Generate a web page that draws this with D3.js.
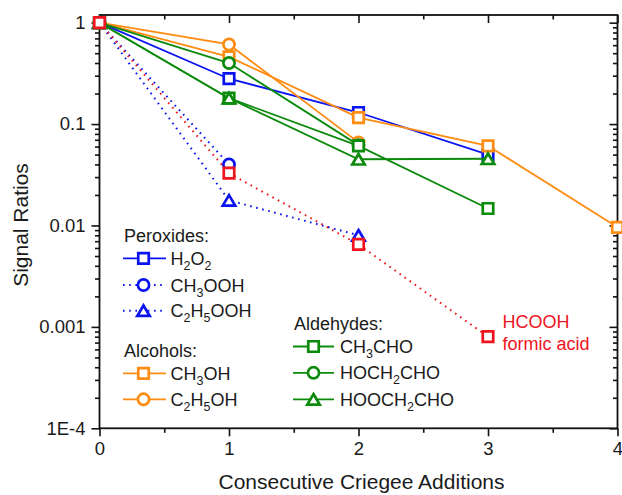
<!DOCTYPE html>
<html>
<head>
<meta charset="utf-8">
<script src="https://cdn.jsdelivr.net/npm/d3@7"></script>
<style>
  html, body { margin: 0; padding: 0; background: #fff; }
  svg text { font-family: "Liberation Sans", Arial, sans-serif; fill: #1a1a1a; }
</style>
</head>
<body>
<svg id="chart" width="622" height="495"></svg>
<script>
// Number of consecutive Criegee additions
const additions = [0, 1, 2, 3, 4];

// Signal ratios per species (index = number of additions)
const h2o2      = [1, 0.28, 0.13, 0.05];
const ch3ooh    = [1, 0.04];
const c2h5ooh   = [1, 0.0177, 0.008];
const ch3oh     = [1, 0.46, 0.116, 0.061, 0.0096];
const c2h5oh    = [1, 0.61, 0.066];
const ch3cho    = [1, 0.18, 0.061, 0.0147];
const hoch2cho  = [1, 0.40, 0.062];
const hooch2cho = [1, 0.18, 0.045, 0.0455];
const hcooh     = [1, 0.0328, 0.0065, 0.0008];

const yTickValues = [1, 0.1, 0.01, 0.001, 0.0001];
const yTickLabels = ["1", "0.1", "0.01", "0.001", "1E-4"];
const xTickValues = [0, 1, 2, 3, 4];

const BLUE = "#0a14f0", ORANGE = "#ff8c12", GREEN = "#0b8a0b", RED = "#f0141e";

const series = [
  { name: "H2O2",      values: h2o2,      color: BLUE,   shape: "square",   dotted: false },
  { name: "CH3OOH",    values: ch3ooh,    color: BLUE,   shape: "circle",   dotted: true },
  { name: "C2H5OOH",   values: c2h5ooh,   color: BLUE,   shape: "triangle", dotted: true },
  { name: "CH3OH",     values: ch3oh,     color: ORANGE, shape: "square",   dotted: false },
  { name: "C2H5OH",    values: c2h5oh,    color: ORANGE, shape: "circle",   dotted: false },
  { name: "CH3CHO",    values: ch3cho,    color: GREEN,  shape: "square",   dotted: false },
  { name: "HOCH2CHO",  values: hoch2cho,  color: GREEN,  shape: "circle",   dotted: false },
  { name: "HOOCH2CHO", values: hooch2cho, color: GREEN,  shape: "triangle", dotted: false },
  { name: "HCOOH",     values: hcooh,     color: RED,    shape: "square",   dotted: true }
];
// stacking order of the plotted series (later ones on top)
const drawOrder = [0, 1, 2, 3, 4, 6, 5, 7, 8];

const svg = d3.select("#chart");

const x = d3.scaleLinear().domain([0, 4]).range([99.5, 617.5]);
const y = d3.scaleLog().domain([1e-4, 1.19]).range([428.3, 15]);

const plotLeft = x.range()[0], plotRight = x.range()[1];
const plotTop = y.range()[1], plotBottom = y.range()[0];

// Marker shapes
function markerPath(shape) {
  if (shape === "square") {
    const s = 10.5;
    return `M${-s/2},${-s/2}H${s/2}V${s/2}H${-s/2}Z`;
  }
  if (shape === "circle") {
    return d3.symbol(d3.symbolCircle, Math.PI * 5.6 * 5.6)();
  }
  const w = 12.5, h = 10.5;
  return `M0,${-h/2}L${w/2},${h/2}L${-w/2},${h/2}Z`;
}

function drawMarker(g, shape, color, cx, cy) {
  g.append("path")
    .attr("d", markerPath(shape))
    .attr("transform", `translate(${cx},${cy})`)
    .attr("fill", "#fff")
    .attr("stroke", color)
    .attr("stroke-width", 2.7)
    .attr("stroke-linejoin", "miter");
}

function styleLine(sel, s) {
  sel.attr("fill", "none")
    .attr("stroke", s.color)
    .attr("stroke-width", s.dotted ? 2 : 1.8);
  if (s.dotted) sel.attr("stroke-dasharray", "1.6,4.6");
}

// Axes: bottom/left ticks outward, top/right mirrored inward
const minorX = d3.range(0.5, 4, 1);
const minorY = [];
[1e-4, 1e-3, 1e-2, 1e-1].forEach(d => { for (let k = 2; k <= 9; k++) minorY.push(d * k); });

const axisColor = "#111";

// bottom axis
svg.append("g").attr("transform", `translate(0,${plotBottom})`)
  .call(d3.axisBottom(x).tickValues(minorX).tickSize(4.5).tickFormat(""))
  .call(g => g.select(".domain").remove());
svg.append("g").attr("class", "xaxis").attr("transform", `translate(0,${plotBottom})`)
  .call(d3.axisBottom(x).tickValues(xTickValues).tickSize(8).tickPadding(6).tickFormat(d3.format("d")))
  .call(g => g.select(".domain").remove());
// top axis (inward)
svg.append("g").attr("transform", `translate(0,${plotTop})`)
  .call(d3.axisBottom(x).tickValues(minorX).tickSize(4.5).tickFormat(""))
  .call(g => g.select(".domain").remove());
svg.append("g").attr("transform", `translate(0,${plotTop})`)
  .call(d3.axisBottom(x).tickValues(xTickValues).tickSize(8).tickFormat(""))
  .call(g => g.select(".domain").remove());
// left axis
svg.append("g").attr("transform", `translate(${plotLeft},0)`)
  .call(d3.axisLeft(y).tickValues(minorY).tickSize(4.5).tickFormat(""))
  .call(g => g.select(".domain").remove());
svg.append("g").attr("class", "yaxis").attr("transform", `translate(${plotLeft},0)`)
  .call(d3.axisLeft(y).tickValues(yTickValues).tickSize(8).tickPadding(6)
    .tickFormat((d, i) => yTickLabels[i]))
  .call(g => g.select(".domain").remove());
// right axis (inward)
svg.append("g").attr("transform", `translate(${plotRight},0)`)
  .call(d3.axisLeft(y).tickValues(minorY).tickSize(4.5).tickFormat(""))
  .call(g => g.select(".domain").remove());
svg.append("g").attr("transform", `translate(${plotRight},0)`)
  .call(d3.axisLeft(y).tickValues(yTickValues).tickSize(8).tickFormat(""))
  .call(g => g.select(".domain").remove());

// unlabeled tick groups carry no text
svg.selectAll(".tick text").filter(function () { return this.textContent === ""; }).remove();
svg.selectAll(".tick line").attr("stroke", axisColor).attr("stroke-width", 1.6);
svg.selectAll(".xaxis text, .yaxis text").attr("font-size", 18.5).attr("fill", "#1a1a1a")
  .attr("font-family", "'Liberation Sans', Arial, sans-serif");

// frame
svg.append("rect")
  .attr("x", plotLeft).attr("y", plotTop)
  .attr("width", plotRight - plotLeft).attr("height", plotBottom - plotTop)
  .attr("fill", "none").attr("stroke", axisColor).attr("stroke-width", 1.8);

// axis titles
svg.append("text")
  .attr("x", (plotLeft + plotRight) / 2 + 3).attr("y", 489)
  .attr("text-anchor", "middle").attr("font-size", 21)
  .text("Consecutive Criegee Additions");
svg.append("text")
  .attr("transform", "translate(28,225) rotate(-90)")
  .attr("text-anchor", "middle").attr("font-size", 21)
  .text("Signal Ratios");

// data
const plot = svg.append("g");
const line = d3.line().x((d, i) => x(additions[i])).y(d => y(d));
drawOrder.map(i => series[i]).forEach(s => {
  const g = plot.append("g");
  g.append("path").attr("d", line(s.values)).call(styleLine, s);
  s.values.forEach((v, i) => drawMarker(g, s.shape, s.color, x(additions[i]), y(v)));
});

// legend labels with chemical subscripts
function richLabel(g, tx, ty, parts) {
  const t = g.append("text").attr("x", tx).attr("y", ty).attr("font-size", 18);
  let shift = 0;
  parts.forEach(p => {
    if (typeof p === "string") {
      t.append("tspan").attr("dy", -shift).text(p);
      shift = 0;
    } else {
      t.append("tspan").attr("dy", 5 - shift).attr("font-size", 12.5).text(p.sub);
      shift = 5;
    }
  });
  return t;
}

function legendEntry(g, s, x0, x1, xm, ym, tx, parts) {
  const path = g.append("path").attr("d", `M${x0},${ym}H${x1}`);
  styleLine(path, s);
  drawMarker(g, s.shape, s.color, xm, ym);
  richLabel(g, tx, ym + 6.5, parts);
}

const leg = svg.append("g");
leg.append("text").attr("x", 124).attr("y", 242).attr("font-size", 18).text("Peroxides:");
legendEntry(leg, series[0], 123, 166, 143.5, 258.3, 170.5, ["H", {sub: "2"}, "O", {sub: "2"}]);
legendEntry(leg, series[1], 123, 166, 143.5, 285, 170.5, ["CH", {sub: "3"}, "OOH"]);
legendEntry(leg, series[2], 123, 166, 143.5, 310.7, 170.5, ["C", {sub: "2"}, "H", {sub: "5"}, "OOH"]);

leg.append("text").attr("x", 124).attr("y", 357).attr("font-size", 18).text("Alcohols:");
legendEntry(leg, series[3], 123, 166, 143.5, 373.3, 170.5, ["CH", {sub: "3"}, "OH"]);
legendEntry(leg, series[4], 123, 166, 143.5, 399.3, 170.5, ["C", {sub: "2"}, "H", {sub: "5"}, "OH"]);

leg.append("text").attr("x", 294).attr("y", 330).attr("font-size", 18).text("Aldehydes:");
legendEntry(leg, series[5], 293, 334, 313.5, 346.5, 340, ["CH", {sub: "3"}, "CHO"]);
legendEntry(leg, series[6], 293, 334, 313.5, 372.8, 340, ["HOCH", {sub: "2"}, "CHO"]);
legendEntry(leg, series[7], 293, 334, 313.5, 399.3, 340, ["HOOCH", {sub: "2"}, "CHO"]);

// formic acid annotation
svg.append("text").attr("x", 502.5).attr("y", 328).attr("font-size", 18)
  .style("fill", RED).text("HCOOH");
svg.append("text").attr("x", 502.5).attr("y", 350).attr("font-size", 18)
  .style("fill", RED).text("formic acid");
</script>
</body>
</html>
